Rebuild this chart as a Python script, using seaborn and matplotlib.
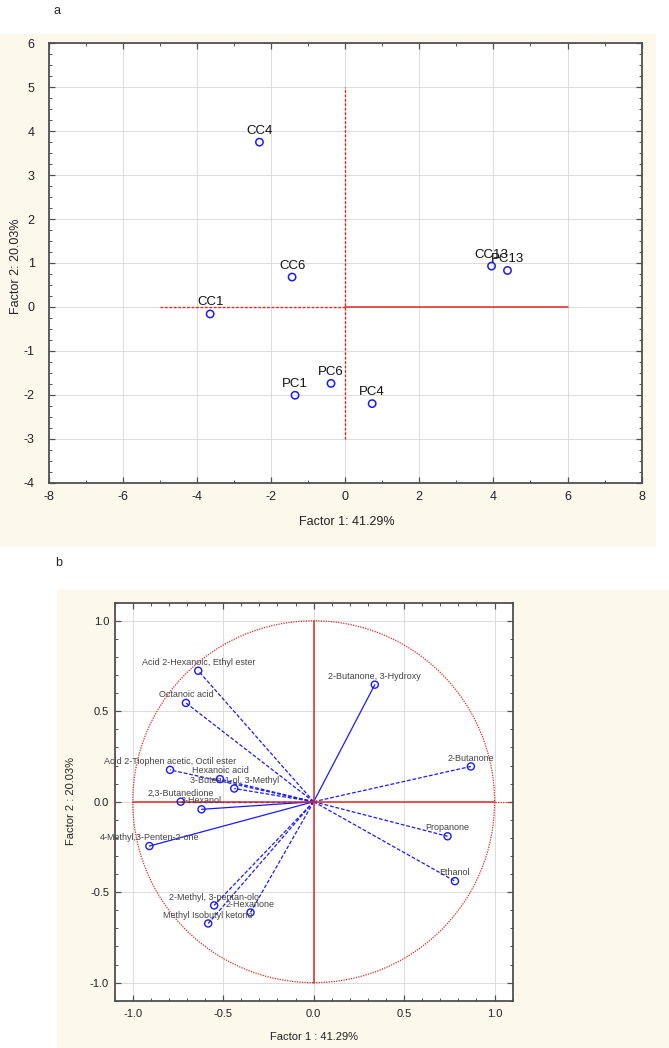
import numpy as np
import pandas as pd
import seaborn as sns
import matplotlib.pyplot as plt
from matplotlib.patches import Rectangle, Circle
from matplotlib.ticker import MultipleLocator

# --- panel a : scores ---
samples = ['CC4', 'CC6', 'CC1', 'PC1', 'PC6', 'PC4', 'CC13', 'PC13']
score_f1 = [-2.31, -1.43, -3.64, -1.35, -0.38, 0.73, 3.95, 4.38]
score_f2 = [3.75, 0.68, -0.16, -2.01, -1.74, -2.20, 0.93, 0.83]

# --- panel b : loadings ---
compounds = ['Acid 2-Hexanoic, Ethyl ester', 'Octanoic acid', 'Acid 2-Tiophen acetic, Octil ester',
             'Hexanoic acid', '3-Buten-1-ol, 3-Methyl', '2,3-Butanedione', '2-Hexanol',
             '4-Methyl,3-Penten-2-one', '2-Butanone, 3-Hydroxy', '2-Butanone', 'Propanone',
             'Ethanol', '2-Methyl, 3-pentan-olo', '2-Hexanone', 'Methyl Isobutyl ketone']
load_f1 = [-0.638, -0.706, -0.794, -0.518, -0.439, -0.735, -0.620, -0.908, 0.338, 0.869,
           0.740, 0.781, -0.550, -0.349, -0.583]
load_f2 = [0.724, 0.546, 0.176, 0.125, 0.073, 0.0, -0.042, -0.245, 0.647, 0.195,
           -0.191, -0.439, -0.573, -0.612, -0.673]
solid_lines = ['2-Hexanol', '4-Methyl,3-Penten-2-one', '2-Butanone, 3-Hydroxy']

f1_label = 41.29
f2_label = 20.03

df_a = pd.DataFrame({'name': samples, 'f1': score_f1, 'f2': score_f2})
df_b = pd.DataFrame({'name': compounds, 'f1': load_f1, 'f2': load_f2})

sns.set_style('ticks')
plt.rcParams['font.family'] = ['Liberation Sans', 'DejaVu Sans']
plt.rcParams['axes.unicode_minus'] = False

BEIGE = '#fdf8ec'
RED = '#e02828'
BLUE = '#1a1aff'
SPINE = '#505050'

fig = plt.figure(figsize=(6.69, 10.48), dpi=100)
fig.patches.append(Rectangle((0, 0.479), 0.979, 0.489, transform=fig.transFigure,
                             color=BEIGE, zorder=-10))
fig.patches.append(Rectangle((0.0852, 0), 0.9148, 0.437, transform=fig.transFigure,
                             color=BEIGE, zorder=-10))


def style_axes(ax, fs):
    for s in ax.spines.values():
        s.set_color(SPINE)
        s.set_linewidth(1.3)
    ax.tick_params(which='both', direction='in', top=True, right=True, colors=SPINE,
                   labelcolor='#222222', labelsize=fs)
    ax.tick_params(which='major', length=4, width=0.9)
    ax.tick_params(which='minor', length=2.5, width=0.7)
    ax.grid(True, which='major', color='#dcdcdc', lw=0.7, zorder=0)
    ax.set_axisbelow(True)
    ax.set_xlabel('')
    ax.set_ylabel('')


# ---------------- panel a ----------------
ax1 = fig.add_axes([0.0725, 0.5394, 0.8867, 0.4193])
ax1.set_facecolor('white')
ax1.plot([-5, 0], [0, 0], color=RED, lw=1, ls=(0, (2, 1.2)), zorder=2)
ax1.plot([0, 6], [0, 0], color=RED, lw=1.1, zorder=2)
ax1.plot([0, 0], [-3, 5], color=RED, lw=1, ls=(0, (2, 1.2)), zorder=2)
sns.scatterplot(data=df_a, x='f1', y='f2', ax=ax1, marker='o', s=28, facecolor='none',
                edgecolor=BLUE, linewidth=1.1, zorder=3)
for n, x, y in zip(df_a['name'], df_a['f1'], df_a['f2']):
    ax1.annotate(n, (x, y), xytext=(0, 8.3), textcoords='offset points',
                 ha='center', va='center', fontsize=9.5, color='#111111')
ax1.set_xlim(-8, 8)
ax1.set_ylim(-4, 6)
ax1.xaxis.set_major_locator(MultipleLocator(2))
ax1.xaxis.set_minor_locator(MultipleLocator(1))
ax1.yaxis.set_major_locator(MultipleLocator(1))
ax1.yaxis.set_minor_locator(MultipleLocator(0.25))
style_axes(ax1, 9)
ax1.tick_params(axis='y', pad=10)
ax1.tick_params(axis='x', pad=6)
fig.text(0.518, 0.502, f'Factor 1: {f1_label}%', ha='center', va='center', fontsize=9,
         color='#222222')
fig.text(0.024, 0.746, f'Factor 2: {f2_label}%', ha='center', va='center', rotation=90,
         fontsize=9, color='#222222')
fig.text(0.085, 0.9895, 'a', ha='center', va='center', fontsize=9)

# ---------------- panel b ----------------
ax2 = fig.add_axes([0.1714, 0.0451, 0.5949, 0.3798])
ax2.set_facecolor('white')
ax2.add_patch(Circle((0, 0), 1, fill=False, ec=RED, lw=0.9, ls=(0, (1, 1)), zorder=2))
for n, x, y in zip(df_b['name'], df_b['f1'], df_b['f2']):
    ls = '-' if n in solid_lines else (0, (3, 1.5))
    ax2.plot([0, x], [0, y], color=BLUE, lw=0.9, ls=ls, zorder=3)
ax2.plot([-1, 1], [0, 0], color=RED, lw=1.1, zorder=4)
ax2.plot([1, 1.1], [0, 0], color=RED, lw=0.9, ls=(0, (1, 1)), zorder=4)
ax2.plot([0, 0], [-1, 1], color=RED, lw=1.1, zorder=4)
sns.scatterplot(data=df_b, x='f1', y='f2', ax=ax2, marker='o', s=26, facecolor='none',
                edgecolor=BLUE, linewidth=1.0, zorder=5)
for n, x, y in zip(df_b['name'], df_b['f1'], df_b['f2']):
    ax2.annotate(n, (x, y), xytext=(0, 6), textcoords='offset points',
                 ha='center', va='center', fontsize=6.5, color='#444444', zorder=6)
ax2.set_xlim(-1.1, 1.1)
ax2.set_ylim(-1.1, 1.1)
ax2.xaxis.set_major_locator(MultipleLocator(0.5))
ax2.xaxis.set_minor_locator(MultipleLocator(0.1))
ax2.yaxis.set_major_locator(MultipleLocator(0.5))
ax2.yaxis.set_minor_locator(MultipleLocator(0.1))
ax2.xaxis.set_major_formatter(lambda v, p: f'{v:.1f}')
ax2.yaxis.set_major_formatter(lambda v, p: f'{v:.1f}')
style_axes(ax2, 8)
ax2.tick_params(axis='y', pad=4)
ax2.tick_params(axis='x', pad=6)
fig.text(0.470, 0.0108, f'Factor 1 : {f1_label}%', ha='center', va='center', fontsize=8,
         color='#222222')
fig.text(0.106, 0.236, f'Factor 2 : {f2_label}%', ha='center', va='center', rotation=90,
         fontsize=8, color='#222222')
fig.text(0.088, 0.4625, 'b', ha='center', va='center', fontsize=9)

fig.savefig('out.png', dpi=100)
